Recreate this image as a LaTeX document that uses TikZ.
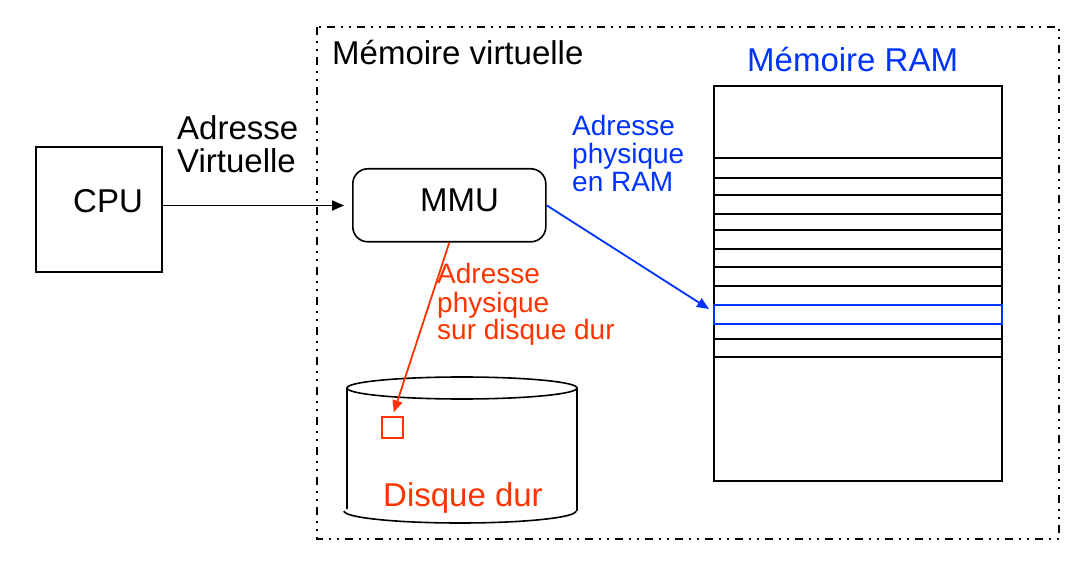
\documentclass[tikz,border=0pt]{standalone}
\usepackage{fontspec}
\setmainfont{Liberation Sans}
\usetikzlibrary{arrows.meta}
\definecolor{ramblue}{RGB}{0,51,255}
\definecolor{diskred}{RGB}{255,51,0}
\tikzset{
  big/.style={font=\fontsize{33}{33}\selectfont, inner sep=0pt, anchor=base west, align=left},
  small/.style={font=\fontsize{28}{28}\selectfont, inner sep=0pt, anchor=base west, align=left},
  blk/.style={draw=black, line width=1.6pt},
  arr/.style={line width=1.8pt, -{Triangle[length=12pt,width=10pt]}},
  dashdotdot/.style={line width=1.8pt, dash pattern=on 8pt off 6pt on 2pt off 6pt on 2pt off 6pt},
}
\begin{document}
\begin{tikzpicture}[x=1pt,y=-1pt]
\useasboundingbox (0,0) rectangle (1080,564);
% virtual memory frame
\draw[dashdotdot] (317,27) rectangle (1059,539);
\node[big] (mvlabel) at (332,65) {Mémoire virtuelle};
% CPU
\node[blk, minimum width=126pt, minimum height=125pt, anchor=north west, inner sep=0pt] (cpu) at (35,146) {};
\node[big] (cpulabel) at (73,213) {CPU};
% MMU
\node[blk, rounded corners=15pt, minimum width=193pt, minimum height=73pt, anchor=north west, inner sep=0pt] (mmu) at (352,168) {};
\node[big] (mmulabel) at (420,212) {MMU};
\node[big] (avlabel) at (177,173) {Adresse\\Virtuelle};
% RAM
\node[big, text=ramblue] (ramlabel) at (747,72) {Mémoire RAM};
\node[blk, minimum width=288pt, minimum height=395pt, anchor=north west, inner sep=0pt] (ram) at (713,85) {};
\foreach \yy in {158,178,195,214,230,249,267,286,339,357}
  \draw[line width=1.6pt] (ram.west |- 0,\yy) -- (ram.east |- 0,\yy);
\node[draw=ramblue, line width=1.6pt, minimum width=288pt, minimum height=19pt, anchor=north west, inner sep=0pt] (ramrow) at (713,304) {};
\coordinate (ramhit) at (709,309);
\node[small, text=ramblue] (aplabel) at (572,192) {Adresse\\physique\\en RAM};
% Disk
\draw[line width=1.6pt] (347,388) -- (347,509);
\draw[line width=1.6pt] (577,388) -- (577,511);
\draw[line width=1.6pt] (462,388) ellipse [x radius=115pt, y radius=11pt];
\draw[line width=1.6pt] (344,511) arc[start angle=180, end angle=360, x radius=116pt, y radius=12pt];
\node[draw=diskred, line width=1.6pt, minimum size=21pt, inner sep=0pt] (sect) at (392.5,427.5) {};
\node[font=\fontsize{33}{33}\selectfont, inner sep=0pt, anchor=base west, text=diskred] (disklabel) at (383,506) {Disque dur};
\node[small, text=diskred] (adlabel) at (437,340) {Adresse\\physique\\sur disque dur};
% arrows
\draw[arr] (cpu.east |- 0,205.5) -- ([xshift=-8pt]mmu.west |- 0,205.5);
\draw[arr, draw=ramblue, fill=ramblue] (mmu.east) -- (ramhit);
\draw[arr, draw=diskred, fill=diskred, shorten >=4pt] (mmu.south) -- (sect.north);
\end{tikzpicture}
\end{document}
